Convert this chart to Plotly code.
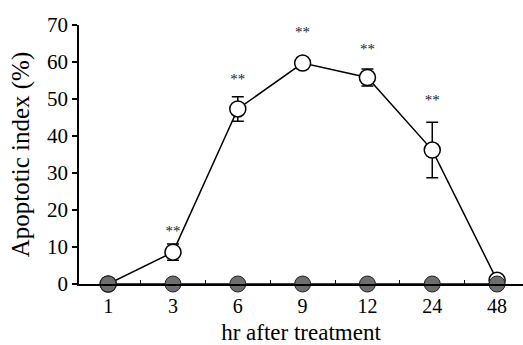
import plotly.graph_objects as go

# Time points after treatment (hours), shown as evenly spaced categories
hours = ["1", "3", "6", "9", "12", "24", "48"]

# Apoptotic index (%) for the treated group, with SD
treated = [0, 8.6, 47.3, 59.7, 55.8, 36.2, 1]
treated_err = [0, 2.2, 3.3, 1.5, 2.3, 7.5, 0]

# Control group values (%)
control = [0, 0, 0, 0, 0, 0, 0]

# Significance markers and their heights (%)
sig = ["", "**", "**", "**", "**", "**", ""]
sig_y = [0, 14, 55, 67.8, 63.2, 49.5, 0]

FONT = "Times New Roman"

fig = go.Figure()

fig.add_trace(go.Scatter(
    x=hours, y=treated,
    mode="lines+markers",
    line=dict(color="black", width=1.5),
    marker=dict(symbol="circle", size=16, color="white",
                line=dict(color="black", width=1.5)),
    error_y=dict(type="data", array=treated_err, visible=True,
                 color="black", thickness=1.5, width=6),
    cliponaxis=False,
    showlegend=False,
))

fig.add_trace(go.Scatter(
    x=hours, y=control,
    mode="lines+markers",
    line=dict(color="black", width=1.5),
    marker=dict(symbol="circle", size=16, color="#6e6e6e",
                line=dict(color="#222222", width=1)),
    cliponaxis=False,
    showlegend=False,
))

fig.add_trace(go.Scatter(
    x=hours, y=sig_y,
    mode="text",
    text=sig,
    textposition="middle center",
    textfont=dict(family=FONT, size=15, color="#222222"),
    cliponaxis=False,
    showlegend=False,
))

fig.update_layout(
    width=523, height=345,
    margin=dict(l=79, r=0, t=25, b=61),
    paper_bgcolor="white",
    plot_bgcolor="white",
    font=dict(family=FONT, color="black", size=18),
)

fig.update_xaxes(
    type="category",
    range=[-0.45, 6.4],
    showgrid=False,
    zeroline=False,
    showline=True, linecolor="black", linewidth=1.5,
    ticks="inside", tickson="boundaries", ticklen=4, tickwidth=1,
    tickcolor="black",
    tickfont=dict(family=FONT, size=20),
    ticklabelstandoff=3,
    title=dict(text="hr after treatment", font=dict(family=FONT, size=23),
               standoff=10),
)

fig.update_yaxes(
    range=[0, 70],
    tickvals=[0, 10, 20, 30, 40, 50, 60, 70],
    showgrid=False,
    zeroline=False,
    showline=True, linecolor="black", linewidth=1.5,
    ticks="outside", ticklen=5, tickwidth=1.5, tickcolor="black",
    tickfont=dict(family=FONT, size=21),
    title=dict(text="Apoptotic index (%)", font=dict(family=FONT, size=25),
               standoff=10),
)

fig.write_html("out.html")
